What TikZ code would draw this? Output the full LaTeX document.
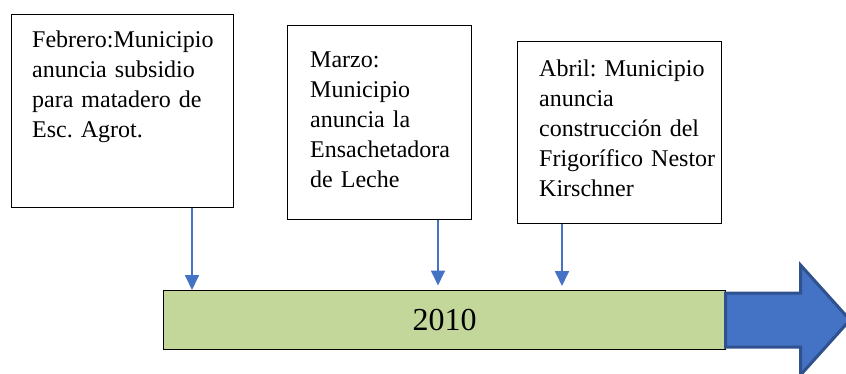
\documentclass[tikz,border=0pt]{standalone}
\usepackage{fontspec}
\setmainfont{Liberation Serif}
\usetikzlibrary{arrows.meta}
\definecolor{barfill}{HTML}{C4D79B}
\definecolor{arrblue}{HTML}{4472C4}
\definecolor{arrdark}{HTML}{2F528F}
\frenchspacing
\begin{document}
\begin{tikzpicture}[x=1pt,y=-1pt,
  box/.style={draw=black, line width=1.3pt, fill=white, inner sep=0pt, anchor=north west},
  lbl/.style={anchor=base west, align=left, text width=215pt, inner sep=0pt, font=\fontsize{24}{30}\selectfont\frenchspacing},
  conn/.style={draw=arrblue, line width=1.8pt, -{Triangle[length=15pt,width=14pt]}},
  bigarrow/.style={fill=arrblue, draw=arrdark, line width=3pt, line join=miter}
  ]
\useasboundingbox (0,0) rectangle (846,374);
\clip (0,0) rectangle (846,374);
% boxes
\node[box, minimum width=222pt, minimum height=193pt] (b1) at (11,14) {};
\node[box, minimum width=184pt, minimum height=194pt] (b2) at (287,25) {};
\node[box, minimum width=204pt, minimum height=182pt] (b3) at (517,41) {};
% texts
\node[lbl] (t1) at (32,48) {Febrero:Municipio\\anuncia subsidio\\para matadero de\\Esc. Agrot.};
\node[lbl] (t2) at (310,68) {Marzo:\\Municipio\\anuncia la\\Ensachetadora\\de Leche};
\node[lbl] (t3) at (539,76.7) {Abril: Municipio\\anuncia\\construcción del\\Frigorífico Nestor\\Kirschner};
% bar
\node[draw=black, line width=1.3pt, fill=barfill, minimum width=562pt, minimum height=59pt,
      anchor=north west, inner sep=0pt, font=\fontsize{32}{38}\selectfont] (bar) at (163,290) {2010};
% big arrow
\draw[bigarrow] (725.5,293) -- (800.5,293) -- (800.5,265) -- (850,320) -- (800.5,375) -- (800.5,347) -- (725.5,347) -- cycle;
% connectors
\coordinate (x1) at (192,0);
\coordinate (x2) at (438,0);
\coordinate (x3) at (562,0);
\draw[conn] (b1.south -| x1) -- (bar.north -| x1);
\draw[conn, shorten >=4.5pt] (b2.south -| x2) -- (bar.north -| x2);
\draw[conn, shorten >=4pt] (b3.south -| x3) -- (bar.north -| x3);
\end{tikzpicture}
\end{document}
